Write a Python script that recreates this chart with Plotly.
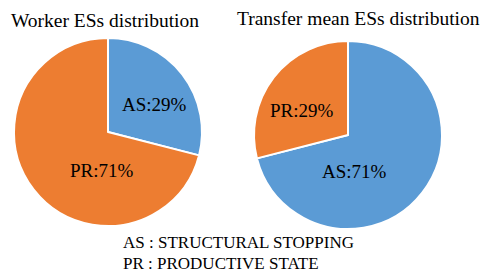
import plotly.graph_objects as go

categories = ["AS", "PR"]
worker_values = [29, 71]
transfer_values = [71, 29]
titles = ["Worker ESs distribution", "Transfer mean ESs distribution"]
legend_lines = ["AS : STRUCTURAL STOPPING", "PR : PRODUCTIVE STATE"]
colors = ["#5B9BD5", "#ED7D31"]

W, H = 481, 273
FONT = "Liberation Serif, Times New Roman, serif"

def px_x(x):
    return x / W

def px_y(y):
    return (H - y) / H

fig = go.Figure()
pies = [
    (worker_values, (108, 132)),
    (transfer_values, (348, 135)),
]
R = 94
for vals, (cx, cy) in pies:
    fig.add_trace(go.Pie(
        labels=categories, values=vals, sort=False, direction="clockwise", rotation=0,
        marker=dict(colors=colors, line=dict(color="white", width=2)),
        textinfo="none",
        domain=dict(x=[px_x(cx - R), px_x(cx + R)], y=[px_y(cy + R), px_y(cy - R)]),
        showlegend=False, hoverinfo="label+percent",
    ))

# slice labels (text built from the data)
label_pos = [
    (worker_values[0], categories[0], (154, 105)),
    (worker_values[1], categories[1], (102, 170)),
    (transfer_values[1], categories[1], (302, 110)),
    (transfer_values[0], categories[0], (354, 171)),
]
for v, c, (x, y) in label_pos:
    fig.add_annotation(text=f"{c}:{v}%", x=px_x(x), y=px_y(y), xanchor="center", yanchor="middle",
                       xref="paper", yref="paper", showarrow=False,
                       font=dict(family=FONT, size=19, color="black"))

annotations = [
    dict(text=titles[0], x=px_x(105), y=px_y(21), xanchor="center", yanchor="middle", size=19.5),
    dict(text=titles[1], x=px_x(358), y=px_y(19), xanchor="center", yanchor="middle", size=19.5),
    dict(text=legend_lines[0], x=px_x(122), y=px_y(242), xanchor="left", yanchor="middle", size=17),
    dict(text=legend_lines[1], x=px_x(122), y=px_y(263), xanchor="left", yanchor="middle", size=17),
]
for a in annotations:
    size = a.pop("size")
    fig.add_annotation(**a, xref="paper", yref="paper", showarrow=False, borderpad=0,
                       font=dict(family=FONT, size=size, color="black"))

fig.update_layout(
    width=W, height=H, margin=dict(l=0, r=0, t=0, b=0),
    paper_bgcolor="white", plot_bgcolor="white",
)
fig.write_html("out.html", config={"displayModeBar": False},
               post_script="document.body.style.margin='0px';")
